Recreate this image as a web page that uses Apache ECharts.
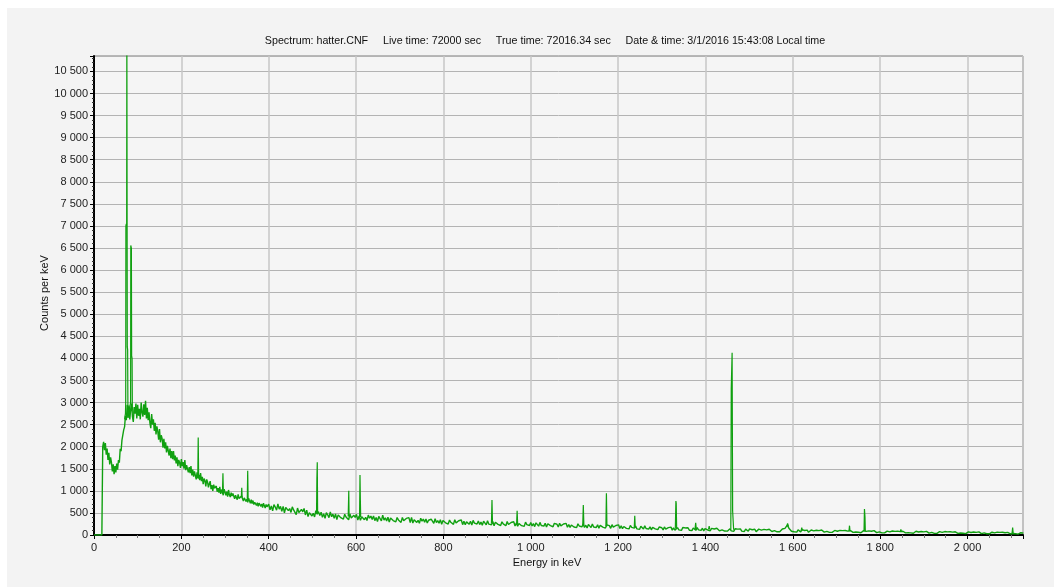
<!DOCTYPE html>
<html>
<head>
<meta charset="utf-8">
<script src="https://cdn.jsdelivr.net/npm/echarts@6/dist/echarts.min.js"></script>
<style>
html,body{margin:0;padding:0;background:#fff;}
#chart{width:1054px;height:587px;}
</style>
</head>
<body>
<div id="chart"></div>
<script>
// ---- Data ----
const titleText = 'Spectrum: hatter.CNF     Live time: 72000 sec     True time: 72016.34 sec     Date & time: 3/1/2016 15:43:08 Local time';
const xAxisTitle = 'Energy in keV';
const yAxisTitle = 'Counts per keV';

// continuum, 0 .. 398 keV, 2 keV per channel
const lowStart = 0, lowStep = 2;
const countsLow = [
  0,0,0,0,0,0,0,0,0,0,
  2000,2110,1920,2080,1820,1960,1700,1860,1600,1760,
  1640,1440,1600,1380,1560,1420,1620,1480,1700,1640,
  1950,1900,2150,2120,2380,2450,2700,2600,2950,2650,
  2930,2620,2850,2980,2680,2560,2900,2750,2980,2640,
  2950,2700,2860,2620,3000,2780,2680,2960,2720,3040,
  2640,2880,2600,2780,2540,2420,2740,2500,2620,2360,
  2540,2280,2460,2350,2160,2400,2100,2260,2180,1980,
  2180,1960,2100,1870,2020,1990,1800,1960,1740,1900,
  1720,1900,1690,1800,1620,1760,1560,1700,1640,1520,
  1720,1560,1650,1500,1700,1470,1580,1600,1420,1540,
  1400,1560,1350,1480,1320,1440,1400,1260,1420,1280,
  1360,1240,1400,1220,1320,1150,1280,1230,1100,1260,
  1200,1080,1160,1220,1040,1130,1000,1140,1060,1020,
  1110,980,1060,960,1090,930,1030,1000,900,1040,
  1010,900,980,870,1020,910,860,960,880,940,
  940,820,900,860,800,920,830,870,790,880,
  860,770,840,880,760,810,740,830,790,720,
  800,710,780,690,740,760,670,730,650,720,
  740,650,700,620,720,660,610,690,640,670
];

// continuum, 400 .. 2128 keV, 3 keV per channel
const highStart = 400, highStep = 3;
const countsHigh = [
  697,569,657,545,689,633,561,705,585,649,
  535,647,503,623,655,551,599,511,639,567,
  571,462,610,509,470,579,524,602,454,563,
  417,507,544,431,492,409,552,469,529,439,
  515,400,479,378,508,457,392,522,414,472,
  379,477,351,456,484,393,435,358,470,407,
  440,345,474,386,352,447,399,467,338,433,
  334,412,444,347,399,327,451,379,431,353,
  430,326,397,306,423,378,319,450,339,391,
  316,403,291,384,409,328,365,297,396,341,
  369,285,399,321,291,375,333,393,279,400,
  272,344,374,284,332,266,380,314,362,290,
  363,270,334,345,357,317,265,369,282,328,
  265,344,243,327,349,277,310,249,338,288,
  318,241,345,274,246,323,285,340,235,312,
  232,297,324,243,310,227,330,270,313,249,
  318,235,292,219,313,276,229,323,245,287,
  231,304,210,288,309,241,272,215,298,252,
  279,209,304,239,214,284,249,299,204,274,
  201,261,286,211,251,196,291,236,276,216,
  281,204,257,190,276,243,200,286,214,252,
  201,268,182,254,273,211,240,187,264,220,
  244,180,267,207,184,249,216,262,175,239,
  172,227,250,181,218,167,254,204,241,185,
  245,173,222,159,240,209,168,249,182,218,
  171,232,153,219,237,179,206,157,228,188,
  212,150,234,177,155,216,186,230,146,208,
  142,193,214,151,184,138,218,172,205,155,
  203,139,183,127,199,171,135,207,147,179,
  132,185,117,174,189,140,163,121,182,147,
  164,114,182,135,117,168,142,178,110,160,
  108,150,167,115,143,104,171,132,160,118,
  164,109,147,99,160,136,106,167,116,143,
  107,153,94,144,157,114,134,97,150,120,
  137,92,153,111,95,140,118,150,89,134,
  87,124,140,93,118,84,143,109,134,96,
  137,89,122,80,134,113,86,140,95,119,
  88,130,76,121,133,94,112,79,127,100,
  117,76,131,93,79,119,99,128,73,114,
  73,111,135,108,151,150,233,152,135,86,
  117,74,104,66,115,96,71,120,80,101,
  73,111,62,103,113,78,94,65,108,84,
  99,63,112,78,65,102,83,109,60,96,
  59,90,103,64,85,56,105,77,98,66,
  102,62,89,54,99,82,59,104,67,87,
  61,96,51,89,99,66,81,54,94,71,
  86,51,98,66,53,88,71,96,48,83,
  47,76,88,52,71,45,91,64,83,55,
  88,49,76,42,85,68,47,90,54,73,
  49,82,39,75,85,53,68,41,80,58,
  72,39,83,53,42,74,58,81,37,69,
  36,64,75,41,59,34,78,52,71,43,
  75,40,64,33,73,57,37,77,44,62,
  39,70,30,63,72,43,56,32,67,48,
  60,30,70,43,32,62,47,68,28,57,
  27,52,63,31,48,25,65,42,59,33,
  61,29,51,23,59,45,27,63,33,49,
  29,55,21,47,52,30,42
];

// photopeaks: [energy keV, counts] outlines
const peaks = [
  [[70,2620],[72,2750],[72.6,3000],[73,7000],[74,7050],[74.8,7000],[75.2,11800],[75.8,11800],[76.2,4260],[77,4200],[77.6,2950],[79,2800],[82,2900],[83.8,3000],[84.2,6560],[85.6,6500],[86.2,4050],[87.2,4000],[87.8,2900],[90,2750]],
  [[237.6,1320],[238.6,2210],[239.6,1300]],
  [[294.2,980],[295.2,1400],[296.2,960]],
  [[337.3,860],[338.3,1070],[339.3,850]],
  [[350.9,800],[351.9,1455],[352.9,790]],
  [[509.5,480],[510.3,1280],[510.8,1290],[511.2,1645],[512,480]],
  [[582,420],[582.8,770],[583.3,1003],[584,420]],
  [[608,410],[609,1358],[609.8,808],[610.6,410]],
  [[910,265],[911.2,792],[912.4,265]],
  [[967.5,240],[968.8,550],[970,240]],
  [[1119,212],[1120.3,679],[1121.6,212]],
  [[1172,200],[1173.2,943],[1174.4,200]],
  [[1237,170],[1238.1,437],[1239.2,170]],
  [[1331,140],[1332.3,770],[1333,720],[1334,140]],
  [[1376,130],[1377.6,278],[1379,130]],
  [[1407,125],[1408.5,204],[1410,125]],
  [[1458,118],[1459,3320],[1460.5,3320],[1461,4126],[1461.8,4126],[1462.2,543],[1463.5,543],[1464.5,118]],
  [[1586.5,180],[1588,264],[1589.5,200]],
  [[1619,100],[1620.5,166],[1622,100]],
  [[1728.5,85],[1729.8,211],[1731,85]],
  [[1763,78],[1764,588],[1764.8,588],[1765.2,414],[1766,78]],
  [[1846,72],[1847.4,128],[1849,72]],
  [[2102,42],[2103.3,166],[2104.5,42]]
];

const xMin = 0, xMax = 2127, xInterval = 200;
const yMin = 0, yMax = 10850, yInterval = 500;

// ---- build series data ----
const continuum = [];
countsLow.forEach((c, i) => continuum.push([lowStart + i * lowStep, c]));
countsHigh.forEach((c, i) => continuum.push([highStart + i * highStep, c]));
const peakData = [];
peaks.forEach(p => { p.forEach(pt => peakData.push(pt)); peakData.push(null); });

const fmt = v => String(v).replace(/\B(?=(\d{3})+(?!\d))/g, ' ');
const FONT = "'Liberation Sans', Arial, sans-serif";
const green = '#10a010';

const chart = echarts.init(document.getElementById('chart'), null, {renderer: 'canvas'});
chart.setOption({
  animation: false,
  backgroundColor: '#f3f3f3',
  textStyle: {fontFamily: FONT},
  graphic: [
    {type: 'rect', shape: {x: 0, y: 0, width: 1054, height: 8}, style: {fill: '#ffffff'}, silent: true},
    {type: 'rect', shape: {x: 0, y: 0, width: 7, height: 587}, style: {fill: '#ffffff'}, silent: true},
    {type: 'text', x: 545, y: 41, style: {text: titleText, fill: '#111', font: "10.7px " + FONT, textAlign: 'center', textVerticalAlign: 'middle'}},
    {type: 'text', x: 547, y: 563, style: {text: xAxisTitle, fill: '#111', font: "11px " + FONT, textAlign: 'center', textVerticalAlign: 'middle'}},
    {type: 'text', x: 45, y: 293, rotation: Math.PI / 2, style: {text: yAxisTitle, fill: '#111', font: "11px " + FONT, textAlign: 'center', textVerticalAlign: 'middle'}}
  ],
  grid: {
    left: 94, right: 31, top: 56, bottom: 52,
    show: true, backgroundColor: '#f5f5f5', borderColor: '#7a7a7a', borderWidth: 1
  },
  xAxis: {
    type: 'value', min: xMin, max: xMax, interval: xInterval,
    axisLine: {onZero: false, lineStyle: {color: '#000', width: 2}},
    axisTick: {show: true, length: 4, lineStyle: {color: '#000'}},
    minorTick: {show: true, splitNumber: 4, length: 3, lineStyle: {color: '#777'}},
    axisLabel: {color: '#222', fontSize: 11, fontFamily: FONT, margin: 7, formatter: fmt, showMaxLabel: false},
    splitLine: {show: true, lineStyle: {color: '#c6c6c6', width: 1.5}}
  },
  yAxis: {
    type: 'value', min: yMin, max: yMax, interval: yInterval,
    axisLine: {show: true, lineStyle: {color: '#000', width: 2}},
    axisTick: {show: true, length: 4, lineStyle: {color: '#000'}},
    minorTick: {show: true, splitNumber: 5, length: 2, lineStyle: {color: '#333'}},
    axisLabel: {color: '#222', fontSize: 11, fontFamily: FONT, margin: 6, formatter: fmt, showMaxLabel: false},
    splitLine: {show: true, lineStyle: {color: '#b3b3b3', width: 1}}
  },
  series: [
    {type: 'line', data: continuum, symbol: 'none', lineStyle: {color: green, width: 1.4}, clip: true},
    {type: 'line', data: peakData, symbol: 'none', connectNulls: false, lineStyle: {color: green, width: 1.2}, clip: true}
  ]
});
</script>
</body>
</html>
